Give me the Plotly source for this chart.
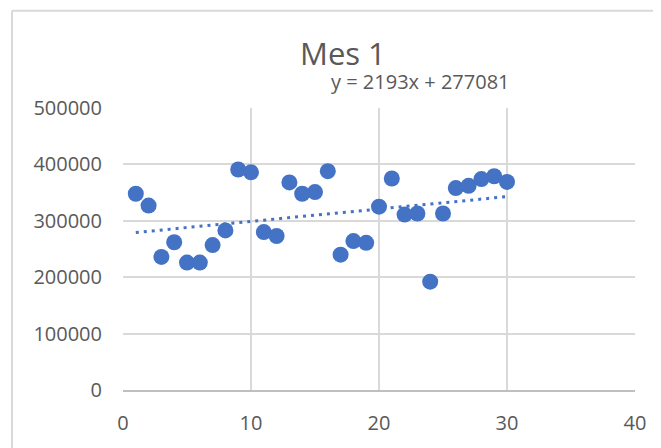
import plotly.graph_objects as go

days = list(range(1, 31))
values = [348000, 327000, 236000, 262000, 226000, 226000, 257000, 283000, 391000, 386000,
          280000, 273000, 368000, 348000, 351000, 388000, 240000, 264000, 261000, 325000,
          375000, 311000, 313000, 192000, 313000, 358000, 362000, 374000, 379000, 369000]
trend_slope = 2193
trend_intercept = 277081
title_text = "Mes 1"
equation_text = "y = 2193x + 277081"
x_ticks = [0, 10, 20, 30, 40]
y_ticks = [0, 100000, 200000, 300000, 400000, 500000]

blue = "#4472C4"
grid = "#d9d9d9"
txt = "#595959"
font = "Open Sans"

trend_x = [min(days), max(days)]
trend_y = [trend_slope * x + trend_intercept for x in trend_x]

fig = go.Figure()
fig.add_trace(go.Scatter(
    x=trend_x, y=trend_y, mode="lines",
    line=dict(color=blue, width=3, dash="3px,5px"),
    hoverinfo="skip", showlegend=False))
fig.add_trace(go.Scatter(
    x=days, y=values, mode="markers",
    marker=dict(color=blue, size=16, line=dict(width=0)),
    showlegend=False))

# page body has an 8px margin; compensate
OFF = 8
W, H = 661 - OFF, 448 - OFF
L, T = 123 - OFF, 108 - OFF
pw, ph = 512, 287
R, B = W - L - pw, H - T - ph

fig.update_layout(
    width=W, height=H,
    margin=dict(l=L, r=R, t=T, b=B, pad=0),
    paper_bgcolor="white", plot_bgcolor="white",
    font=dict(family=font, color=txt),
    xaxis=dict(range=[0, 40], tickvals=x_ticks, showgrid=True, gridcolor=grid, gridwidth=1.8,
               zeroline=False, showline=True, linecolor="#bfbfbf", linewidth=2,
               ticks="", tickfont=dict(size=20, color=txt), ticklabelstandoff=14,
               fixedrange=True),
    yaxis=dict(range=[0, 500000], tickvals=y_ticks, showgrid=True, gridcolor=grid, gridwidth=1.8,
               zeroline=False, showline=False, ticks="", tickformat="d",
               tickfont=dict(size=20, color=txt), ticklabelstandoff=20,
               fixedrange=True),
    showlegend=False,
)

# outer chart border (top and left edges visible)
bx = (12 - OFF - L) / pw
by = (H - B - (9 - OFF)) / ph
fig.add_shape(type="line", xref="paper", yref="paper", x0=bx, x1=1.3, y0=by, y1=by,
              line=dict(color=grid, width=2))
fig.add_shape(type="line", xref="paper", yref="paper", x0=bx, x1=bx, y0=by, y1=-0.4,
              line=dict(color=grid, width=2))

fig.add_annotation(text=title_text, xref="paper", yref="paper",
                   x=(343 - OFF - L) / pw, y=(H - B - (52 - OFF)) / ph, showarrow=False,
                   xanchor="center", yanchor="middle",
                   font=dict(size=31, color=txt, family=font))
fig.add_annotation(text=equation_text, xref="paper", yref="paper",
                   x=(420 - OFF - L) / pw, y=(H - B - (81 - OFF)) / ph, showarrow=False,
                   xanchor="center", yanchor="middle",
                   font=dict(size=20, color=txt, family=font))

fig.write_html("out.html", config={"displayModeBar": False})
